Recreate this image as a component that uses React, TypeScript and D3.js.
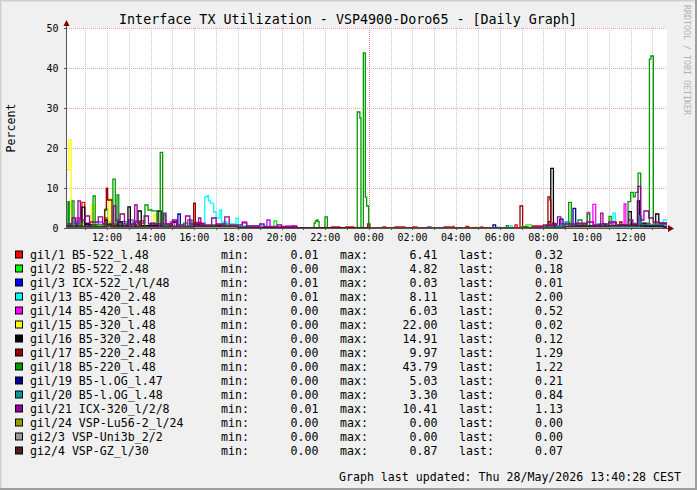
import React from 'react';
import * as d3 from 'd3';

// time is given as clock hour (values above 24 are the next day)
const startHour = 10 + 10 / 60;
const endHour = 37 + 40 / 60;

const hourTicks = [12, 14, 16, 18, 20, 22, 24, 26, 28, 30, 32, 34, 36];
const hourTickLabels = ["12:00", "14:00", "16:00", "18:00", "20:00", "22:00", "00:00", "02:00", "04:00", "06:00", "08:00", "10:00", "12:00"];
const yTicks = [0, 10, 20, 30, 40, 50];

const seriesNames = [
  "gil/1 B5-522_l.48",
  "gil/2 B5-522_2.48",
  "gil/3 ICX-522_l/l/48",
  "gil/13 B5-420_2.48",
  "gil/14 B5-420_l.48",
  "gil/15 B5-320_l.48",
  "gil/16 B5-320_2.48",
  "gil/17 B5-220_2.48",
  "gil/18 B5-220_l.48",
  "gil/19 B5-l.OG_l.47",
  "gil/20 B5-l.OG_l.48",
  "gil/21 ICX-320_l/2/8",
  "gil/24 VSP-Lu56-2_l/24",
  "gi2/3 VSP-Uni3b_2/2",
  "gi2/4 VSP-GZ_l/30",
];
const seriesColors = ["#FF0000", "#00FF00", "#0000FF", "#00FFFF", "#FF00FF", "#FFFF00", "#000000", "#990000", "#009900", "#000099", "#009999", "#990099", "#999900", "#999999", "#502020"];
const minValues = ["0.01", "0.00", "0.01", "0.01", "0.00", "0.00", "0.00", "0.00", "0.00", "0.00", "0.00", "0.01", "0.00", "0.00", "0.00"];
const maxValues = ["6.41", "4.82", "0.03", "8.11", "6.03", "22.00", "14.91", "9.97", "43.79", "5.03", "3.30", "10.41", "0.00", "0.00", "0.87"];
const lastValues = ["0.32", "0.18", "0.01", "2.00", "0.52", "0.02", "0.12", "1.29", "1.22", "0.21", "0.84", "1.13", "0.00", "0.00", "0.07"];

// [hour, value] steps: value holds until the next hour
const gi1_1: [number, number][] = [[10.17, 0.3], [10.62, 1.5], [10.85, 6.4], [10.98, 1.2], [11.3, 0.6], [11.9, 2.5], [12.03, 0.8], [12.6, 1.6], [12.9, 0.5], [13.5, 1.8], [13.7, 0.4], [14.6, 1.0], [15.0, 0.3], [16.0, 1.4], [16.3, 0.4], [17.0, 0.8], [17.5, 0.2], [19.0, 0.05], [20.5, 0.3], [20.7, 0.05], [22.3, 0.3], [22.68, 0.05], [22.95, 0.3], [23.3, 0.05], [24.65, 0.3], [24.78, 0.05], [25.2, 0.3], [25.65, 0.05], [26.02, 0.3], [26.2, 0.05], [27.45, 0.3], [27.77, 0.05], [27.85, 0.4], [27.9, 0.05], [28.45, 0.4], [28.58, 0.05], [29.14, 0.3], [29.22, 0.05], [30.7, 0.75], [30.8, 0.05], [31.5, 0.5], [32.4, 1.2], [32.55, 0.4], [33.6, 1.0], [33.8, 0.3], [35.2, 1.5], [35.35, 0.5], [36.7, 1.0], [36.9, 0.32]];
const gi1_2: [number, number][] = [[10.17, 0.5], [10.7, 2.0], [10.9, 0.4], [11.9, 4.8], [12.05, 1.5], [12.3, 0.6], [13.3, 1.8], [13.5, 0.4], [15.8, 1.2], [16.0, 0.3], [17.3, 0.8], [17.5, 0.2], [19.65, 1.75], [19.78, 0.1], [20.0, 0.02], [31.2, 0.8], [31.45, 0.2], [33.0, 1.0], [33.2, 0.3], [36.0, 1.2], [36.2, 0.4], [37.5, 0.18]];
const gi1_3: [number, number][] = [[10.17, 0.02], [20.0, 0.01], [32.0, 0.03], [37.5, 0.01]];
const gi1_13: [number, number][] = [[10.17, 0.5], [10.4, 1.5], [10.6, 0.3], [11.5, 1.0], [11.7, 0.3], [12.9, 1.5], [13.1, 0.4], [14.3, 0.8], [14.5, 0.3], [16.48, 7.8], [16.6, 8.1], [16.65, 6.8], [16.73, 6.2], [16.89, 4.0], [17.0, 2.5], [17.18, 4.5], [17.25, 1.5], [17.5, 1.0], [17.91, 2.4], [18.02, 0.6], [19.33, 2.0], [19.47, 0.3], [20.0, 0.1], [21.0, 0.02], [29.86, 0.2], [30.0, 0.02], [30.47, 0.5], [30.58, 0.02], [32.0, 0.5], [33.0, 1.2], [33.2, 0.4], [35.19, 3.7], [35.3, 0.8], [36.34, 2.4], [36.46, 0.8], [37.5, 2.0]];
const gi1_14: [number, number][] = [[10.17, 0.3], [10.62, 2.5], [10.75, 0.5], [11.6, 1.5], [11.8, 0.4], [13.0, 2.0], [13.2, 0.5], [14.9, 1.5], [15.1, 0.3], [15.7, 2.0], [15.85, 0.5], [16.3, 1.2], [16.5, 0.3], [18.2, 1.5], [18.4, 0.3], [19.33, 2.0], [19.47, 0.4], [20.2, 0.5], [20.5, 0.05], [32.5, 0.4], [33.5, 1.0], [33.7, 0.4], [34.01, 3.9], [34.12, 0.6], [34.27, 5.9], [34.4, 0.8], [35.0, 1.2], [35.2, 0.4], [35.7, 6.0], [35.78, 0.7], [36.6, 1.2], [36.8, 0.5], [37.4, 0.52]];
const gi1_15: [number, number][] = [[10.17, 14.5], [10.25, 22.0], [10.36, 3.0], [10.45, 0.8], [11.28, 5.75], [11.4, 0.5], [12.08, 7.4], [12.2, 0.8], [12.5, 0.3], [14.14, 3.25], [14.25, 0.3], [15.5, 0.8], [15.6, 0.1], [20.0, 0.02], [28.82, 0.3], [28.94, 0.02], [37.0, 0.1], [37.5, 0.02]];
const gi1_16: [number, number][] = [[10.17, 0.5], [10.85, 5.2], [10.98, 0.8], [11.5, 0.3], [11.9, 2.0], [12.0, 0.5], [12.96, 5.3], [13.07, 0.8], [13.42, 4.25], [13.57, 0.6], [14.34, 4.25], [14.48, 0.5], [15.0, 1.5], [15.2, 0.3], [16.2, 1.0], [16.4, 0.2], [17.5, 0.3], [18.0, 0.05], [32.12, 0.5], [32.25, 1.6], [32.34, 14.9], [32.46, 0.8], [32.6, 0.3], [33.5, 0.6], [33.7, 0.3], [35.91, 4.1], [36.03, 0.8], [36.31, 6.8], [36.41, 1.0], [36.6, 0.4], [37.15, 3.5], [37.29, 0.12]];
const gi1_17: [number, number][] = [[10.17, 0.3], [11.0, 1.0], [11.2, 0.3], [11.89, 4.5], [11.97, 9.97], [12.03, 7.0], [12.23, 1.0], [12.5, 0.4], [13.3, 1.5], [13.5, 0.4], [15.97, 6.2], [16.05, 0.8], [16.3, 0.3], [17.0, 0.6], [17.2, 0.2], [18.5, 0.1], [19.2, 0.3], [19.5, 0.05], [20.0, 0.3], [20.2, 0.05], [23.95, 1.0], [24.05, 0.1], [26.5, 0.05], [30.93, 5.5], [31.05, 0.3], [31.3, 0.1], [32.21, 7.8], [32.3, 7.0], [32.34, 0.6], [32.6, 0.3], [33.8, 1.0], [34.0, 0.4], [35.5, 1.5], [35.6, 0.5], [36.5, 1.2], [36.7, 0.6], [37.3, 1.29]];
const gi1_18: [number, number][] = [[10.17, 1.0], [10.21, 6.6], [10.27, 1.0], [10.40, 6.8], [10.49, 1.0], [10.8, 0.3], [11.36, 8.0], [11.46, 0.8], [12.27, 12.2], [12.38, 1.5], [12.46, 8.25], [12.54, 1.0], [12.8, 0.3], [13.74, 5.75], [13.88, 4.5], [14.06, 4.3], [14.29, 1.0], [14.44, 18.9], [14.55, 0.8], [14.8, 0.3], [15.5, 1.2], [15.7, 0.3], [16.8, 0.8], [17.0, 0.2], [18.5, 0.1], [19.0, 0.02], [21.49, 1.2], [21.55, 1.75], [21.61, 2.0], [21.67, 1.6], [21.72, 0.05], [21.99, 2.8], [22.1, 0.05], [23.47, 29.0], [23.59, 27.5], [23.64, 0.1], [23.75, 43.79], [23.84, 7.7], [23.90, 5.5], [23.99, 0.1], [24.2, 0.02], [30.3, 0.6], [30.4, 0.02], [31.0, 0.3], [31.2, 0.02], [32.0, 0.3], [33.16, 6.4], [33.28, 0.5], [33.59, 2.0], [33.77, 0.5], [34.01, 3.5], [34.12, 0.6], [35.01, 2.9], [35.11, 0.6], [35.88, 6.6], [36.0, 8.9], [36.12, 7.8], [36.21, 8.9], [36.34, 13.7], [36.46, 1.0], [36.86, 42.2], [36.93, 43.0], [37.04, 1.0], [37.3, 1.22]];
const gi1_19: [number, number][] = [[10.17, 0.2], [11.0, 1.0], [11.2, 0.2], [12.5, 1.5], [12.7, 0.3], [14.0, 1.2], [14.2, 0.3], [15.25, 3.5], [15.36, 0.4], [16.0, 1.0], [16.2, 0.2], [17.0, 0.5], [17.3, 0.1], [18.0, 0.02], [26.7, 0.2], [26.85, 0.02], [29.69, 0.8], [29.81, 0.05], [32.5, 0.3], [32.75, 2.2], [32.9, 0.3], [33.36, 4.9], [33.48, 0.5], [34.7, 1.0], [34.85, 0.3], [35.5, 0.8], [35.7, 0.3], [36.5, 1.0], [36.7, 0.3], [37.5, 0.21]];
const gi1_20: [number, number][] = [[10.17, 0.3], [10.5, 1.5], [10.7, 0.3], [11.8, 1.0], [12.0, 0.3], [13.2, 1.5], [13.4, 0.3], [14.6, 3.3], [14.7, 0.4], [15.8, 2.0], [15.9, 0.3], [16.3, 0.8], [16.4, 0.2], [17.3, 1.0], [17.5, 0.2], [18.5, 0.05], [32.6, 0.5], [33.0, 1.5], [33.2, 0.4], [34.5, 1.0], [34.7, 0.3], [36.4, 3.0], [36.5, 0.8], [37.3, 0.84]];
const gi1_21: [number, number][] = [[10.17, 1.0], [10.4, 2.5], [10.55, 1.0], [10.67, 6.8], [10.78, 2.0], [11.0, 3.0], [11.2, 1.5], [11.6, 2.8], [11.8, 1.0], [12.3, 5.5], [12.4, 2.0], [12.6, 3.5], [12.8, 1.0], [13.27, 5.75], [13.38, 1.2], [13.7, 3.0], [13.9, 1.0], [14.6, 3.7], [14.7, 1.0], [15.0, 2.0], [15.2, 0.8], [15.6, 3.0], [15.8, 1.0], [16.2, 2.5], [16.3, 0.8], [16.8, 2.5], [17.0, 1.0], [17.4, 2.8], [17.6, 0.8], [18.2, 1.3], [18.4, 0.5], [19.0, 1.0], [19.2, 0.3], [19.8, 0.8], [20.0, 0.3], [20.5, 0.5], [20.7, 0.05], [31.5, 0.3], [32.0, 0.8], [32.5, 1.0], [32.65, 2.8], [32.8, 1.0], [33.5, 1.2], [34.0, 1.5], [34.3, 0.8], [34.63, 3.7], [34.73, 1.0], [35.0, 1.5], [35.3, 0.8], [35.9, 2.0], [36.1, 1.0], [36.34, 10.41], [36.46, 2.0], [36.61, 4.25], [36.83, 2.5], [37.04, 1.5], [37.3, 1.13]];
const gi1_24: [number, number][] = [[10.17, 0]];
const gi2_3: [number, number][] = [[10.17, 0]];
const gi2_4: [number, number][] = [[10.17, 0.3], [12.0, 0.87], [12.2, 0.3], [16.0, 0.5], [18.0, 0.1], [24.0, 0.05], [33.0, 0.4], [35.0, 0.6], [37.5, 0.07]];

const seriesData = [gi1_1, gi1_2, gi1_3, gi1_13, gi1_14, gi1_15, gi1_16, gi1_17, gi1_18, gi1_19, gi1_20, gi1_21, gi1_24, gi2_3, gi2_4];

const W = 697;
const H = 490;
const mono = "DejaVu Sans Mono";

const App: React.FC = () => {
  const x = d3.scaleLinear().domain([startHour, endHour]).range([67, 667]);
  const y = d3.scaleLinear().domain([0, 50]).range([228, 28]);

  const line = d3.line<[number, number]>()
    .x(d => x(d[0]))
    .y(d => y(d[1]))
    .curve(d3.curveStepAfter);

  const hourGrid = d3.range(11, 38);

  return (
    <svg width={W} height={H} style={{ position: 'absolute', left: 0, top: 0 }} fontFamily={mono}>
      <rect x={0} y={0} width={W} height={H} fill="#F0F0F0" />
      {/* 3d frame */}
      <path d={`M0.5,${H} V0.5 H${W}`} stroke="#CFCFCF" fill="none" strokeWidth={2} />
      <path d={`M0,${H - 1} H${W - 1} V0`} stroke="#9E9E9E" fill="none" strokeWidth={2} />

      <rect x={67} y={28} width={600} height={200} fill="#FFFFFF" />

      {/* minor grid (hours) */}
      {hourGrid.filter(h => h !== 24).map(h => (
        <line key={h} x1={Math.round(x(h)) + 0.5} x2={Math.round(x(h)) + 0.5} y1={28} y2={228}
          stroke="#C8C8C8" strokeDasharray="1,1" />
      ))}
      {/* major grid */}
      {yTicks.filter(v => v > 0).map(v => (
        <line key={v} x1={67} x2={667} y1={Math.round(y(v)) + 0.5} y2={Math.round(y(v)) + 0.5}
          stroke="#F0A0A0" strokeDasharray="1,1" />
      ))}
      <line x1={Math.round(x(24)) + 0.5} x2={Math.round(x(24)) + 0.5} y1={28} y2={228}
        stroke="#F08080" strokeDasharray="1,1" />

      {/* series */}
      {seriesData.map((s, i) => (
        <path key={i} d={line([...s, [endHour, s[s.length - 1][1]]]) || ''}
          fill="none" stroke={seriesColors[i]} strokeWidth={1.3} />
      ))}

      {/* axes */}
      <line x1={66.5} x2={66.5} y1={24} y2={229} stroke="#555" />
      <line x1={66} x2={670} y1={228.5} y2={228.5} stroke="#555" />
      {hourGrid.map(h => (
        <line key={h} x1={Math.round(x(h)) + 0.5} x2={Math.round(x(h)) + 0.5} y1={228} y2={230} stroke="#555" />
      ))}
      {yTicks.map(v => (
        <line key={v} x1={64} x2={67} y1={Math.round(y(v)) + 0.5} y2={Math.round(y(v)) + 0.5} stroke="#555" />
      ))}
      <path d="M63.5,26 L66.5,20 L69.5,26 Z" fill="#800000" />
      <path d="M668,225 L674,228.5 L668,232 Z" fill="#800000" />

      {/* tick labels */}
      {yTicks.map(v => (
        <text key={v} x={58.5} y={y(v)} dy="0.35em" textAnchor="end" fontSize={10} fill="#000">{v}</text>
      ))}
      {hourTicks.map((h, i) => (
        <text key={h} x={x(h)} y={241} textAnchor="middle" fontSize={10} fill="#000">{hourTickLabels[i]}</text>
      ))}

      {/* title and labels */}
      <text x={348} y={19} dy="0.35em" textAnchor="middle" fontSize={13.35} fill="#000">
        Interface TX Utilization - VSP4900-Doro65 - [Daily Graph]
      </text>
      <text transform="translate(11,128) rotate(-90)" textAnchor="middle" dy="0.35em" fontSize={11.6} fill="#000">Percent</text>
      <text transform="translate(687,5) rotate(90)" textAnchor="start" dy="0.35em" fontSize={8.3} fill="#B0B0B0">RRDTOOL / TOBI OETIKER</text>

      {/* legend */}
      {seriesNames.map((name, i) => {
        const cy = 254.5 + i * 14;
        return (
          <g key={name} fontSize={11.6} fill="#000">
            <rect x={15.5} y={cy - 3.5} width={7} height={7} fill={seriesColors[i]} stroke="#000" />
            <text x={30} y={cy} dy="0.35em">{name}</text>
            <text x={221} y={cy} dy="0.35em">min:</text>
            <text x={318.5} y={cy} dy="0.35em" textAnchor="end">{minValues[i]}</text>
            <text x={340} y={cy} dy="0.35em">max:</text>
            <text x={437.5} y={cy} dy="0.35em" textAnchor="end">{maxValues[i]}</text>
            <text x={459} y={cy} dy="0.35em">last:</text>
            <text x={563} y={cy} dy="0.35em" textAnchor="end">{lastValues[i]}</text>
          </g>
        );
      })}
      <text x={681} y={477} dy="0.35em" textAnchor="end" fontSize={11.6} fill="#000">
        Graph last updated: Thu 28/May/2026 13:40:28 CEST
      </text>
    </svg>
  );
};

export default App;
